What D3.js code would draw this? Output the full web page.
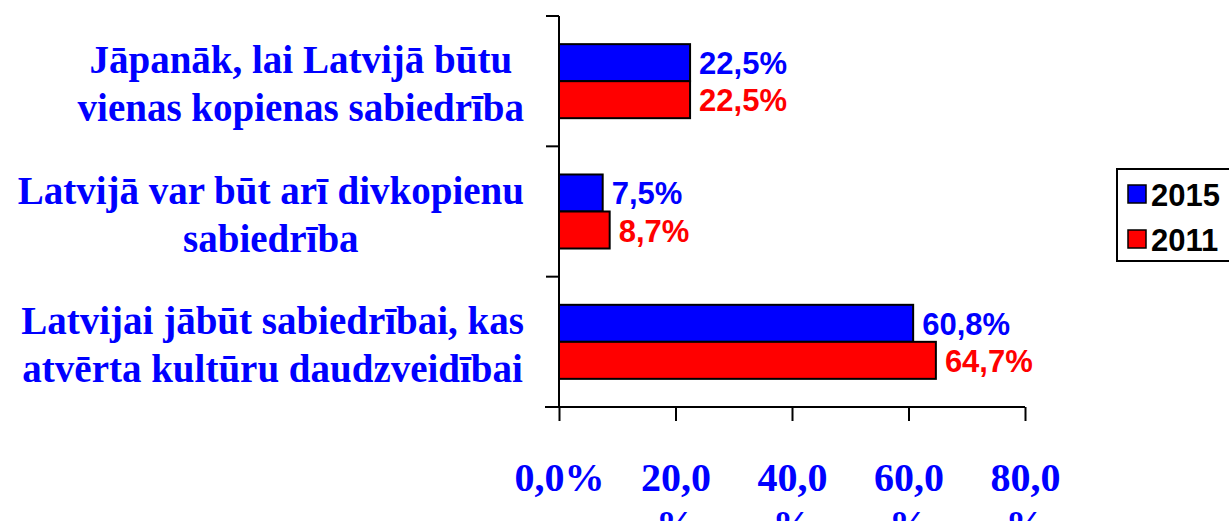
<!DOCTYPE html>
<html>
<head>
<meta charset="utf-8">
<script src="https://cdn.jsdelivr.net/npm/d3@7"></script>
<style>
  body { margin: 0; background: #fff; overflow: hidden; }
  svg { display: block; }
</style>
</head>
<body>
<script>
// chart values
const categories = [
  "Jāpanāk, lai Latvijā būtu vienas kopienas sabiedrība",
  "Latvijā var būt arī divkopienu sabiedrība",
  "Latvijai jābūt sabiedrībai, kas atvērta kultūru daudzveidībai"
];
const categoryLines = [
  ["Jāpanāk, lai Latvijā būtu", "vienas kopienas sabiedrība"],
  ["Latvijā var būt arī divkopienu", "sabiedrība"],
  ["Latvijai jābūt sabiedrībai, kas", "atvērta kultūru daudzveidībai"]
];
const seriesNames = ["2015", "2011"];
const values2015 = [22.5, 7.5, 60.8];
const values2011 = [22.5, 8.7, 64.7];
const xTicks = [0, 20, 40, 60, 80];

const colors = {"2015": "#0000ff", "2011": "#ff0000"};
const width = 1229, height = 521;
const margin = {top: 16, left: 559, right: 203, bottom: 114};

const svg = d3.select("body").append("svg").attr("width", width).attr("height", height);

const rows = categories.map((c, i) => ({cat: c, lines: categoryLines[i], vals: {"2015": values2015[i], "2011": values2011[i]}}));

const x = d3.scaleLinear().domain([0, 80]).range([margin.left, width - margin.right - 1]);
const y = d3.scaleBand().domain(categories).range([margin.top, height - margin.bottom]).paddingInner(0.432).paddingOuter(0.216);
const ySub = d3.scaleBand().domain(seriesNames).range([0, y.bandwidth()]);

const fmt = v => d3.format(".1f")(v).replace(".", ",");

// bars
const groups = svg.append("g").selectAll("g").data(rows).enter().append("g")
  .attr("transform", d => `translate(0,${y(d.cat)})`);

groups.selectAll("rect").data(d => seriesNames.map(s => ({s, v: d.vals[s]}))).enter().append("rect")
  .attr("x", x(0))
  .attr("y", d => ySub(d.s))
  .attr("width", d => x(d.v) - x(0))
  .attr("height", ySub.bandwidth())
  .attr("fill", d => colors[d.s])
  .attr("stroke", "#000").attr("stroke-width", 2);

groups.selectAll("text").data(d => seriesNames.map(s => ({s, v: d.vals[s]}))).enter().append("text")
  .attr("x", d => x(d.v) + 9)
  .attr("y", d => ySub(d.s) + ySub.bandwidth() - 7)
  .attr("fill", d => colors[d.s])
  .style("font", "bold 31px 'Liberation Sans', Arial, sans-serif")
  .text(d => fmt(d.v) + "%");

// y axis (category axis with ticks between groups)
const yAxis = svg.append("g");
yAxis.append("line").attr("x1", x(0)).attr("x2", x(0)).attr("y1", margin.top).attr("y2", height - margin.bottom)
  .attr("stroke", "#000").attr("stroke-width", 2);
const step = y.step();
yAxis.selectAll(".tk").data(d3.range(categories.length + 1)).enter().append("line")
  .attr("x1", x(0) - 13).attr("x2", x(0))
  .attr("y1", i => margin.top + i * step).attr("y2", i => margin.top + i * step)
  .attr("stroke", "#000").attr("stroke-width", 2);

// category labels: block right-aligned, lines centred inside the block
const catG = svg.append("g").selectAll("g").data(rows).enter().append("g");
catG.each(function(d) {
  const g = d3.select(this);
  const cy = y(d.cat) + y.bandwidth() / 2;
  const lh = 48;
  const texts = d.lines.map((ln, i) => g.append("text")
    .attr("y", cy - 8 - (d.lines.length - 2) * lh / 2 + i * lh)
    .attr("fill", "#0000ff")
    .attr("text-anchor", "middle")
    .style("font", "bold 39px 'Liberation Serif', 'Times New Roman', serif")
    .text(ln));
  const maxW = d3.max(texts, t => t.node().getComputedTextLength());
  const right = x(0) - 35;
  texts.forEach(t => t.attr("x", right - maxW / 2));
});

// x axis
const xAxis = svg.append("g").attr("transform", `translate(0,${height - margin.bottom})`)
  .call(d3.axisBottom(x).tickValues(xTicks).tickSize(14).tickPadding(0).tickFormat(d => fmt(d) + "%"));
xAxis.select(".domain").attr("d", `M${x(0) - 14},0H${x(80)}`).attr("stroke", "#000").attr("stroke-width", 2);
xAxis.selectAll(".tick line").attr("stroke", "#000").attr("stroke-width", 2);
xAxis.selectAll(".tick text").each(function(d) {
  const t = d3.select(this);
  const label = fmt(d) + "%";
  t.text(null).attr("y", 84).attr("dy", null)
    .attr("fill", "#0000ff")
    .style("font", "bold 40px 'Liberation Serif', 'Times New Roman', serif");
  t.append("tspan").attr("x", 0).text(label);
  if (t.node().getComputedTextLength() > 100) {
    t.text(null);
    t.append("tspan").attr("x", 0).text(label.slice(0, -1));
    t.append("tspan").attr("x", 0).attr("dy", 47).text("%");
  }
});

// legend
const legend = svg.append("g").attr("transform", "translate(1117,169)");
legend.append("rect").attr("width", 140).attr("height", 92)
  .attr("fill", "#fff").attr("stroke", "#000").attr("stroke-width", 2);
const li = legend.selectAll("g").data(seriesNames).enter().append("g")
  .attr("transform", (d, i) => `translate(11,${16 + i * 45})`);
li.append("rect").attr("width", 18).attr("height", 18)
  .attr("fill", d => colors[d]).attr("stroke", "#000").attr("stroke-width", 1.5);
li.append("text").attr("x", 23).attr("y", 21)
  .style("font", "bold 31px 'Liberation Sans', Arial, sans-serif")
  .attr("fill", "#000").text(d => d);
</script>
</body>
</html>
